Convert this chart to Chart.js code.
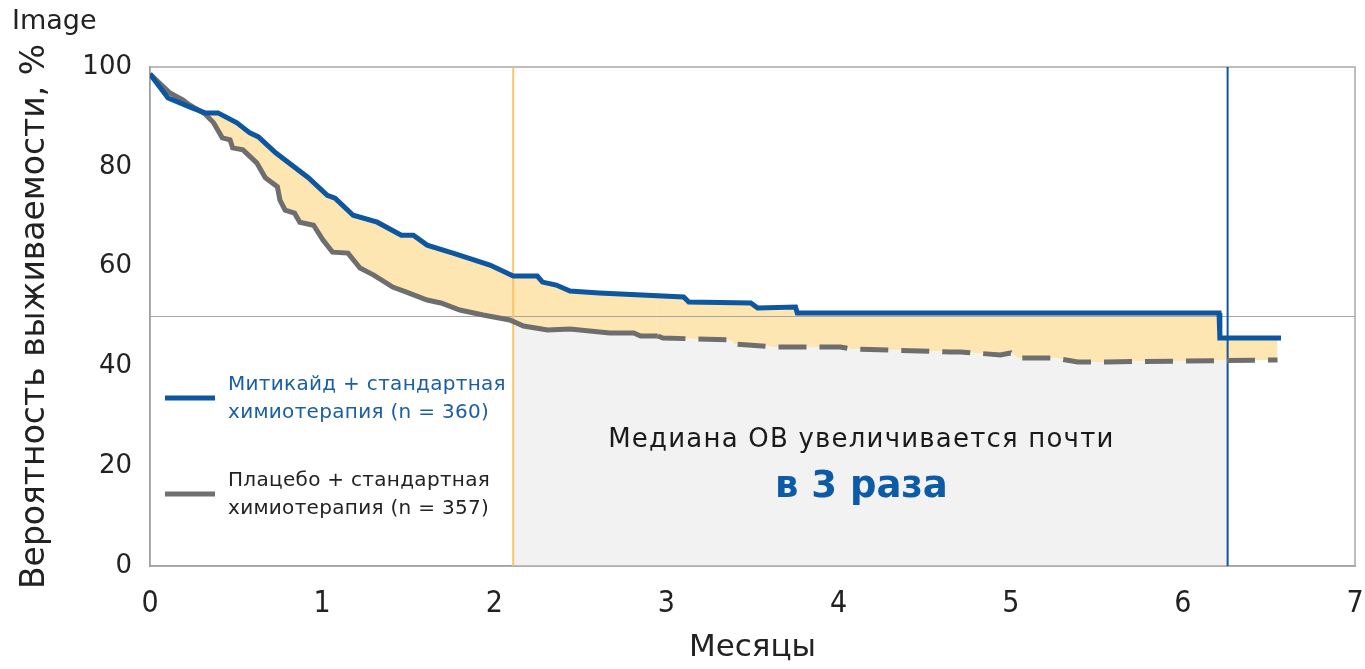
<!DOCTYPE html>
<html>
<head>
<meta charset="utf-8">
<script src="https://cdn.jsdelivr.net/npm/chart.js@4.4.1/dist/chart.umd.min.js"></script>
<style>
    html, body { margin: 0; padding: 0; background: #fff; }
    #wrap { position: relative; width: 1365px; height: 669px; }
    #tag { position: absolute; left: 12px; top: 4px; font: 27px 'DejaVu Sans', sans-serif; color: #222; }
</style>
</head>
<body>
<div id="wrap">
    <div id="tag">Image</div>
    <canvas id="kmChart" width="1365" height="669"></canvas>
</div>
<script>
// Kaplan-Meier curves, values (months / % survival)
const treatMonths = [0, 0.105, 0.23, 0.32, 0.395, 0.505, 0.58, 0.63, 0.73, 0.92, 1.03, 1.075, 1.18, 1.32, 1.46, 1.53, 1.61, 1.76, 1.975, 2.11, 2.25, 2.28, 2.36, 2.44, 2.61, 3.10, 3.13, 3.49, 3.53, 3.75, 3.76, 6.21, 6.215, 6.57];
const treatSurv   = [98.6, 93.8, 92.0, 90.8, 90.8, 88.8, 86.8, 86.0, 82.8, 77.8, 74.3, 73.7, 70.3, 68.9, 66.3, 66.3, 64.3, 62.7, 60.3, 58.1, 58.1, 56.9, 56.3, 55.1, 54.7, 53.9, 52.9, 52.7, 51.7, 51.9, 50.7, 50.7, 45.7, 45.7];

const placeboMonths = [0, 0.116, 0.19, 0.23, 0.32, 0.37, 0.42, 0.465, 0.48, 0.54, 0.62, 0.67, 0.74, 0.755, 0.785, 0.84, 0.87, 0.95, 1.005, 1.06, 1.15, 1.22, 1.30, 1.41, 1.49, 1.61, 1.69, 1.80, 1.935, 2.09, 2.17, 2.31, 2.44, 2.67, 2.81, 2.85, 2.95, 2.98, 3.37, 3.39, 3.62, 4.01, 4.07, 4.65, 4.71, 4.94, 5.0, 5.04, 5.25, 5.39, 5.56, 6.55];
const placeboSurv   = [98.6, 94.8, 93.4, 92.4, 90.6, 88.8, 85.8, 85.4, 83.8, 83.4, 80.8, 77.8, 76.0, 73.3, 71.3, 70.7, 68.9, 68.3, 65.3, 62.9, 62.7, 59.7, 58.3, 55.9, 54.9, 53.3, 52.7, 51.3, 50.3, 49.3, 48.1, 47.3, 47.5, 46.7, 46.7, 46.1, 46.1, 45.7, 45.3, 44.5, 43.9, 43.9, 43.5, 42.9, 42.9, 42.3, 42.7, 41.7, 41.7, 40.9, 40.9, 41.3];

const xTicks = [0, 1, 2, 3, 4, 5, 6, 7];
const yTicks = [0, 20, 40, 60, 80, 100];

const medianLevel = 50;       // horizontal 50% line
const medianPlacebo = 2.11;   // median OS, placebo (orange line)
const medianTreat = 6.26;     // median OS, treatment (blue line)
const dashFrom = 2.95;        // placebo curve becomes dashed from here

const legendLabels = [
    ['Митикайд + стандартная', 'химиотерапия (n = 360)'],
    ['Плацебо + стандартная', 'химиотерапия (n = 357)']
];
const noteLine1 = 'Медиана ОВ увеличивается почти';
const noteLine2 = 'в 3 раза';

const BLUE = '#0d56a0';
const GREY = '#6e6e6e';
const YELLOW = '#fde6b2';
const BOX = '#f2f2f2';
const ORANGE = '#f7c56b';

const toPoints = (xs, ys) => xs.map((x, i) => ({ x: x, y: ys[i] }));

// background pieces: gray box under placebo curve, 50% line, median verticals, frame
const backdrop = {
    id: 'backdrop',
    beforeDatasetsDraw(chart) {
        const { ctx, chartArea: a, scales: { x, y } } = chart;
        const x1 = x.getPixelForValue(medianPlacebo);
        const x2 = x.getPixelForValue(medianTreat);

        ctx.save();
        ctx.beginPath();
        ctx.rect(x1, a.top, x2 - x1, a.bottom - a.top);
        ctx.clip();
        ctx.beginPath();
        placeboMonths.forEach((m, i) => {
            const px = x.getPixelForValue(m), py = y.getPixelForValue(placeboSurv[i]);
            if (i === 0) ctx.moveTo(px, py); else ctx.lineTo(px, py);
        });
        ctx.lineTo(x.getPixelForValue(placeboMonths[placeboMonths.length - 1]), y.getPixelForValue(0));
        ctx.lineTo(x.getPixelForValue(placeboMonths[0]), y.getPixelForValue(0));
        ctx.closePath();
        ctx.fillStyle = BOX;
        ctx.fill();
        ctx.restore();

        ctx.save();
        // frame
        ctx.strokeStyle = '#a8a8a8';
        ctx.lineWidth = 1.5;
        ctx.strokeRect(a.left, a.top, a.right - a.left, a.bottom - a.top);
        // 50% line
        const ym = y.getPixelForValue(medianLevel);
        ctx.beginPath();
        ctx.moveTo(a.left, ym);
        ctx.lineTo(a.right, ym);
        ctx.lineWidth = 1.2;
        ctx.strokeStyle = '#a6a6a6';
        ctx.stroke();
        // median verticals
        ctx.lineWidth = 2;
        ctx.strokeStyle = ORANGE;
        ctx.beginPath();
        ctx.moveTo(x1, a.top);
        ctx.lineTo(x1, a.bottom);
        ctx.stroke();
        ctx.strokeStyle = BLUE;
        ctx.beginPath();
        ctx.moveTo(x2, a.top);
        ctx.lineTo(x2, a.bottom);
        ctx.stroke();
        ctx.restore();
    }
};

// legend inside the plot + annotation text
const overlay = {
    id: 'overlay',
    afterDatasetsDraw(chart) {
        const { ctx, chartArea: a, scales: { x } } = chart;
        ctx.save();
        const rows = [
            { color: BLUE, text: '#1a5ea6', dy: 331 },
            { color: '#707070', text: '#222', dy: 427 }
        ];
        ctx.textBaseline = 'middle';
        ctx.textAlign = 'left';
        ctx.font = "20px 'DejaVu Sans', sans-serif";
        ctx.letterSpacing = '0.3px';
        rows.forEach((r, i) => {
            const ly = a.top + r.dy;
            ctx.strokeStyle = r.color;
            ctx.lineWidth = 5;
            ctx.beginPath();
            ctx.moveTo(a.left + 15, ly);
            ctx.lineTo(a.left + 65, ly);
            ctx.stroke();
            ctx.fillStyle = r.text;
            ctx.fillText(legendLabels[i][0], a.left + 78, ly - 13);
            ctx.fillText(legendLabels[i][1], a.left + 78, ly + 15);
        });

        // note centered in the gap between the two medians
        const cx = (x.getPixelForValue(medianPlacebo) + x.getPixelForValue(medianTreat)) / 2 - 9;
        ctx.textAlign = 'center';
        ctx.fillStyle = '#1a1a1a';
        ctx.font = "26px 'DejaVu Sans', sans-serif";
        ctx.letterSpacing = '1.2px';
        ctx.fillText(noteLine1, cx, 440);
        ctx.fillStyle = '#0d5ba6';
        ctx.font = "bold 37px 'DejaVu Sans', sans-serif";
        ctx.letterSpacing = '0px';
        ctx.fillText(noteLine2, cx, 487);
        ctx.restore();
    }
};

const narrow = "'Liberation Sans Narrow', 'DejaVu Sans Condensed', sans-serif";

new Chart(document.getElementById('kmChart'), {
    type: 'line',
    data: {
        datasets: [{
            label: legendLabels[0].join(' '),
            data: toPoints(treatMonths, treatSurv),
            borderColor: BLUE,
            borderWidth: 5,
            pointRadius: 0,
            tension: 0,
            fill: { target: 1, above: YELLOW, below: 'rgba(0,0,0,0)' }
        }, {
            label: legendLabels[1].join(' '),
            data: toPoints(placeboMonths, placeboSurv),
            borderColor: GREY,
            borderWidth: 5,
            pointRadius: 0,
            tension: 0,
            fill: false,
            segment: {
                borderDash: c => c.p0.parsed.x >= dashFrom ? [28, 13] : undefined
            }
        }]
    },
    options: {
        responsive: false,
        animation: false,
        layout: { padding: { top: 67, right: 10, left: 0, bottom: 0 } },
        plugins: {
            legend: { display: false },
            tooltip: { enabled: false },
            filler: { drawTime: 'beforeDatasetsDraw' }
        },
        scales: {
            x: {
                type: 'linear',
                min: xTicks[0],
                max: xTicks[xTicks.length - 1],
                afterBuildTicks: s => { s.ticks = xTicks.map(v => ({ value: v })); },
                afterFit: s => { s.height = 103; s.paddingLeft = 0; s.paddingRight = 0; },
                grid: { display: false, drawTicks: false },
                border: { display: true, color: '#8a8a8a', width: 1.5 },
                ticks: { padding: 20, color: '#222', font: { family: narrow, size: 30 } },
                title: { display: true, text: 'Месяцы', color: '#222', padding: { top: 0, bottom: 2 }, font: { family: 'DejaVu Sans', size: 31 } }
            },
            y: {
                min: yTicks[0],
                max: yTicks[yTicks.length - 1],
                afterBuildTicks: s => { s.ticks = yTicks.map(v => ({ value: v })); },
                afterFit: s => { s.width = 150; },
                grid: { display: false, drawTicks: false },
                border: { display: true, color: '#8a8a8a', width: 1.5 },
                ticks: { padding: 18, color: '#222', font: { family: 'DejaVu Sans', size: 26 } },
                title: { display: true, text: 'Вероятность выживаемости, %', color: '#222', padding: 16, font: { family: 'DejaVu Sans', size: 33 } }
            }
        }
    },
    plugins: [backdrop, overlay]
});
</script>
</body>
</html>
